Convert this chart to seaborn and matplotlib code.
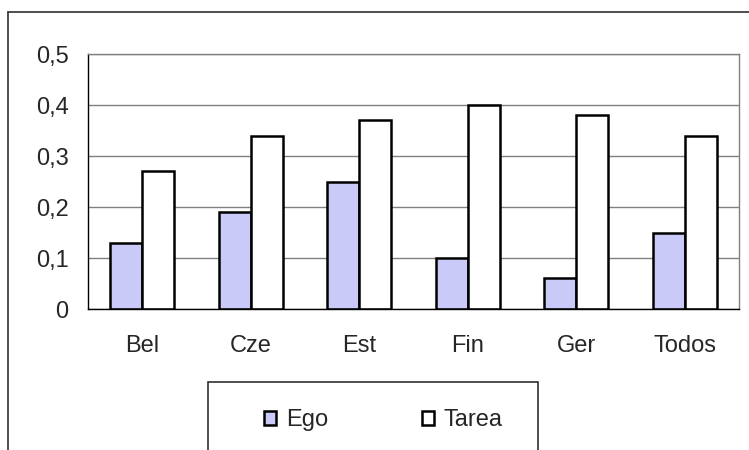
import pandas as pd
import matplotlib.pyplot as plt
import seaborn as sns
from matplotlib.ticker import FuncFormatter, FixedLocator
from matplotlib.patches import Rectangle
from matplotlib.lines import Line2D

sns.set_style("white")
plt.rcParams['font.family'] = ['Liberation Sans', 'DejaVu Sans']

# Datos
paises = ['Bel', 'Cze', 'Est', 'Fin', 'Ger', 'Todos']
ego = [0.13, 0.19, 0.25, 0.10, 0.06, 0.15]
tarea = [0.27, 0.34, 0.37, 0.40, 0.38, 0.34]

df = pd.DataFrame({
    'pais': paises * 2,
    'valor': ego + tarea,
    'grupo': ['Ego'] * len(paises) + ['Tarea'] * len(paises),
})

fig = plt.figure(figsize=(7.49, 4.5), dpi=100)
ax = fig.add_axes([0.1175, 0.3133, 0.8691, 0.5667])

sns.barplot(data=df, x='pais', y='valor', hue='grupo',
            palette={'Ego': '#cacaf8', 'Tarea': 'white'}, saturation=1,
            edgecolor='black', linewidth=1.8, width=0.59, ax=ax)

ax.set_ylim(0, 0.5)
ax.set_xlim(-0.5, len(paises) - 0.5)
ax.set_yticks([0, 0.1, 0.2, 0.3, 0.4, 0.5])
ax.yaxis.set_major_formatter(FuncFormatter(
    lambda v, p: '0' if abs(v) < 1e-9 else f'{v:.1f}'.replace('.', ',')))
ax.set_xlabel('')
ax.set_ylabel('')

# rejilla
ax.grid(axis='y', color='#808080', linewidth=1)
ax.set_axisbelow(True)

for s in ['top', 'right']:
    ax.spines[s].set_color('#808080')
    ax.spines[s].set_linewidth(1)
for s in ['left', 'bottom']:
    ax.spines[s].set_color('black')
    ax.spines[s].set_linewidth(1)

ax.tick_params(axis='y', length=8, width=1, color='#404040', labelsize=17, pad=6)
ax.tick_params(axis='x', which='major', length=0, labelsize=17, pad=19)
ax.xaxis.set_minor_locator(FixedLocator([i - 0.5 for i in range(len(paises) + 1)]))
ax.tick_params(axis='x', which='minor', length=7, width=1, color='#404040', direction='out')

# marco exterior
fig.add_artist(Line2D([0.0107, 1.0], [0.9733, 0.9733], color='#303030', lw=1.2,
                      transform=fig.transFigure))
fig.add_artist(Line2D([0.0107, 0.0107], [0.9733, 0.0], color='#303030', lw=1.2,
                      transform=fig.transFigure))

# leyenda
fig.add_artist(Rectangle((0.2777, -0.1), 0.4406, 0.251, transform=fig.transFigure,
                         facecolor='none', edgecolor='#303030', lw=1.2))
handles, labels = ax.get_legend_handles_labels()
ax.legend(handles, labels, loc='center', bbox_to_anchor=(0.512, 0.066),
          bbox_transform=fig.transFigure, ncol=2, frameon=False, fontsize=17,
          handlelength=0.5, handleheight=0.5, handletextpad=0.4, columnspacing=4.0)

fig.savefig('out.png', dpi=100)
